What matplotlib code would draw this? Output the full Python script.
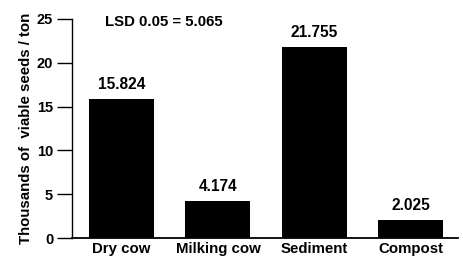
import matplotlib
matplotlib.use("Agg")
import matplotlib.pyplot as plt

categories = ["Dry cow", "Milking cow", "Sediment", "Compost"]
values = [15.824, 4.174, 21.755, 2.025]
value_labels = ["15.824", "4.174", "21.755", "2.025"]
yticks = [0, 5, 10, 15, 20, 25]
lsd_text = "LSD 0.05 = 5.065"

plt.rcParams['font.family'] = ['Liberation Sans', 'DejaVu Sans']
plt.rcParams['font.weight'] = 'bold'

fig = plt.figure(figsize=(4.64, 2.59), dpi=100)
ax = fig.add_axes([0.155, 0.081, 0.832, 0.846])

x = list(range(len(categories)))
ax.bar(x, values, width=0.675, color='black')
for xi, v, lab in zip(x, values, value_labels):
    ax.annotate(lab, (xi, v), xytext=(0, 5.5), textcoords='offset points',
                ha='center', va='bottom', fontsize=11.2, fontweight='bold')

ax.set_xlim(-0.514, 3.49)
ax.set_ylim(0, 25)
ax.set_yticks(yticks)
ax.set_xticks(x)
ax.set_xticklabels(categories, fontsize=10.8, fontweight='bold')
ax.tick_params(axis='x', length=0, pad=3)
ax.tick_params(axis='y', length=10.5, width=1, direction='out', labelsize=10.5, pad=3)
for lab in ax.get_yticklabels():
    lab.set_fontweight('bold')
for s in ['top', 'right']:
    ax.spines[s].set_visible(False)
ax.spines['left'].set_linewidth(1)
ax.spines['bottom'].set_linewidth(1.3)

ax.set_ylabel("Thousands of  viable seeds / ton", fontsize=10.8, fontweight='bold', labelpad=3)
ax.text(0.085, 0.985, lsd_text, transform=ax.transAxes, ha='left', va='center',
        fontsize=10.8, fontweight='bold')

fig.savefig("out.png", dpi=100)
